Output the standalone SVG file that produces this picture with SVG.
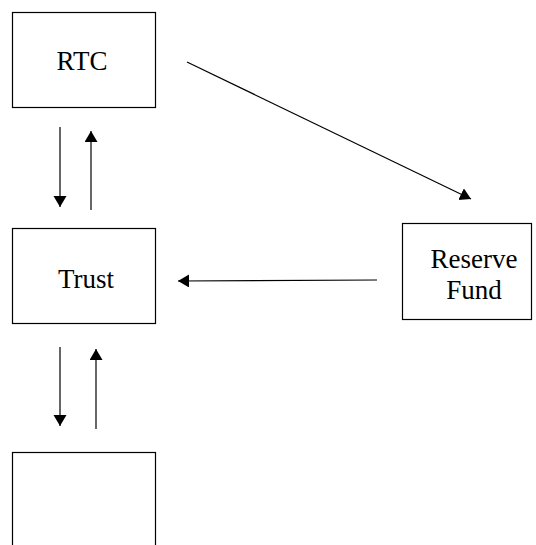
<svg xmlns="http://www.w3.org/2000/svg" width="536" height="545" viewBox="0 0 536 545">
<style>
.box{fill:#fff;stroke:#000;stroke-width:1.2}
.lbl{font-family:"Liberation Serif","Times New Roman",serif;font-size:27px;fill:#000;text-anchor:middle}
.con{stroke:#000;stroke-width:1.2;fill:none;marker-end:url(#ah)}
</style>
<defs>
<marker id="ah" markerWidth="14" markerHeight="14" refX="11" refY="6.5" orient="auto" markerUnits="userSpaceOnUse">
<path d="M0,0 L11,6.5 L0,13 Z" fill="#000"/>
</marker>
</defs>
<rect width="536" height="545" fill="#fff"/>
<g id="rtc"><rect class="box" x="12.5" y="12.5" width="143" height="95"/><text class="lbl" x="82" y="70">RTC</text></g>
<g id="trust"><rect class="box" x="12.5" y="228.5" width="143" height="95"/><text class="lbl" x="86" y="288">Trust</text></g>
<g id="reserve"><rect class="box" x="402.5" y="223.5" width="129" height="96"/><text class="lbl" x="474" y="268">Reserve</text><text class="lbl" x="474" y="299">Fund</text></g>
<g id="bottom"><rect class="box" x="12.5" y="452.5" width="143" height="100"/></g>
<g id="connectors">
<line class="con" x1="60" y1="127" x2="60" y2="207"/>
<line class="con" x1="91" y1="210" x2="91" y2="131"/>
<line class="con" x1="187" y1="62" x2="471" y2="199"/>
<line class="con" x1="377" y1="280" x2="178" y2="281"/>
<line class="con" x1="60" y1="347" x2="60" y2="426"/>
<line class="con" x1="96" y1="429" x2="96" y2="349"/>
</g>
</svg>
